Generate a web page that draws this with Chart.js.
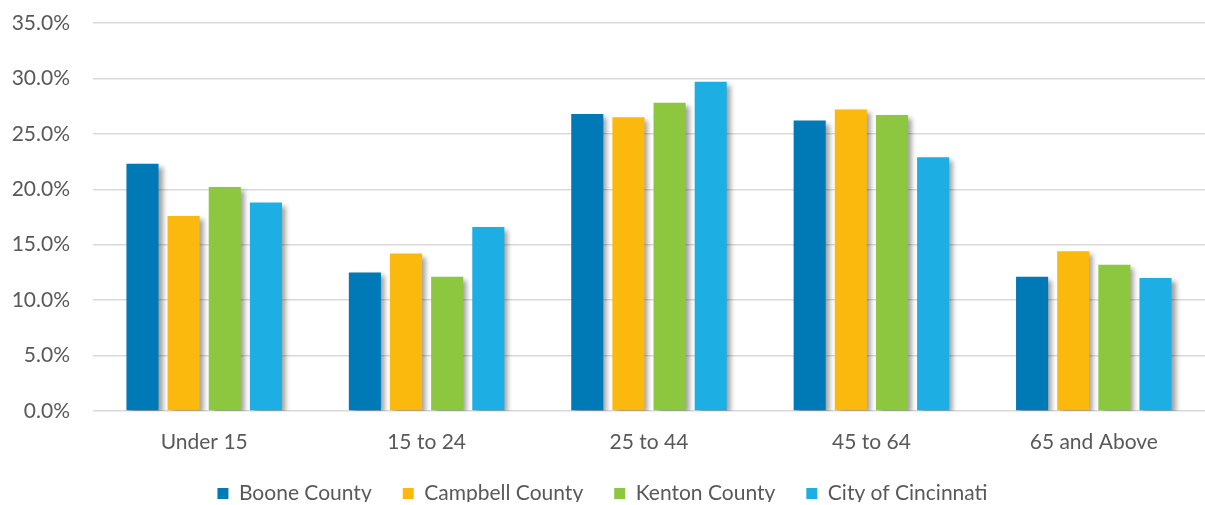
<!DOCTYPE html>
<html>
<head>
<meta charset="utf-8">
<script src="https://cdn.jsdelivr.net/npm/chart.js@4"></script>
<style>
  html, body { margin:0; padding:0; background:#fff; }
  #wrap { width:1205px; height:505px; }
</style>
</head>
<body>
<div id="wrap"><canvas id="ageChart"></canvas></div>
<script>
const ageGroups = ["Under 15", "15 to 24", "25 to 44", "45 to 64", "65 and Above"];
const seriesNames = ["Boone County", "Campbell County", "Kenton County", "City of Cincinnati"];
const boone = [22.3, 12.5, 26.8, 26.2, 12.1];
const campbell = [17.6, 14.2, 26.5, 27.2, 14.4];
const kenton = [20.2, 12.1, 27.8, 26.7, 13.2];
const cincinnati = [18.8, 16.6, 29.7, 22.9, 12.0];
const yTicks = [0, 5, 10, 15, 20, 25, 30, 35];

const COLORS = ["#007AB6", "#FBB90E", "#8DC63F", "#1DAFE4"];
const TEXT = "#595959";
const FONT = "Lato, 'Open Sans', sans-serif";

// soft drop shadow behind the bars, like the office chart
const barShadow = {
  id: "barShadow",
  beforeDatasetsDraw(chart){
    const c = chart.ctx;
    c.save();
    c.shadowColor = "rgba(0,0,0,0.38)";
    c.shadowBlur = 5;
    c.shadowOffsetX = 4;
    c.shadowOffsetY = 3;
  },
  afterDatasetsDraw(chart){
    chart.ctx.restore();
  }
};

// legend padding doubles as item spacing, so place the legend row by hand
const legendDown = {
  id: "legendDown",
  afterLayout(chart){
    const L = chart.legend;
    const h = L.bottom - L.top;
    L.top = 452;
    L.bottom = 452 + h;
  }
};

const values = [boone, campbell, kenton, cincinnati];
const datasets = seriesNames.map((name, i) => ({
  label: name,
  data: values[i],
  backgroundColor: COLORS[i],
  borderWidth: 0,
  categoryPercentage: 0.74,
  barPercentage: 0.78
}));

new Chart(document.getElementById("ageChart"), {
  type: "bar",
  data: { labels: ageGroups, datasets },
  plugins: [barShadow, legendDown],
  options: {
    responsive: true,
    maintainAspectRatio: false,
    animation: false,
    layout: { padding: { top: 23, right: 0, left: 0, bottom: 0 } },
    plugins: {
      legend: {
        position: "bottom",
        maxHeight: 50,
        labels: {
          color: TEXT,
          font: { family: FONT, size: 21 },
          boxWidth: 11,
          boxHeight: 11,
          padding: 31
        }
      },
      tooltip: { enabled: false }
    },
    scales: {
      x: {
        afterFit: (s) => { s.height = 44; },
        grid: { display: false, drawTicks: false },
        border: { display: false },
        ticks: { color: TEXT, font: { family: FONT, size: 21 }, padding: 19 }
      },
      y: {
        min: 0,
        max: 35,
        afterFit: (s) => { s.width = 93; s.paddingTop = 0; },
        afterBuildTicks: (s) => { s.ticks = yTicks.map(v => ({ value: v })); },
        grid: { color: "#d9d9d9", lineWidth: 1.5, drawTicks: false },
        border: { display: false },
        ticks: {
          color: TEXT,
          font: { family: FONT, size: 21 },
          padding: 23,
          callback: (v) => v.toFixed(1) + "%"
        }
      }
    }
  }
});
</script>
</body>
</html>
